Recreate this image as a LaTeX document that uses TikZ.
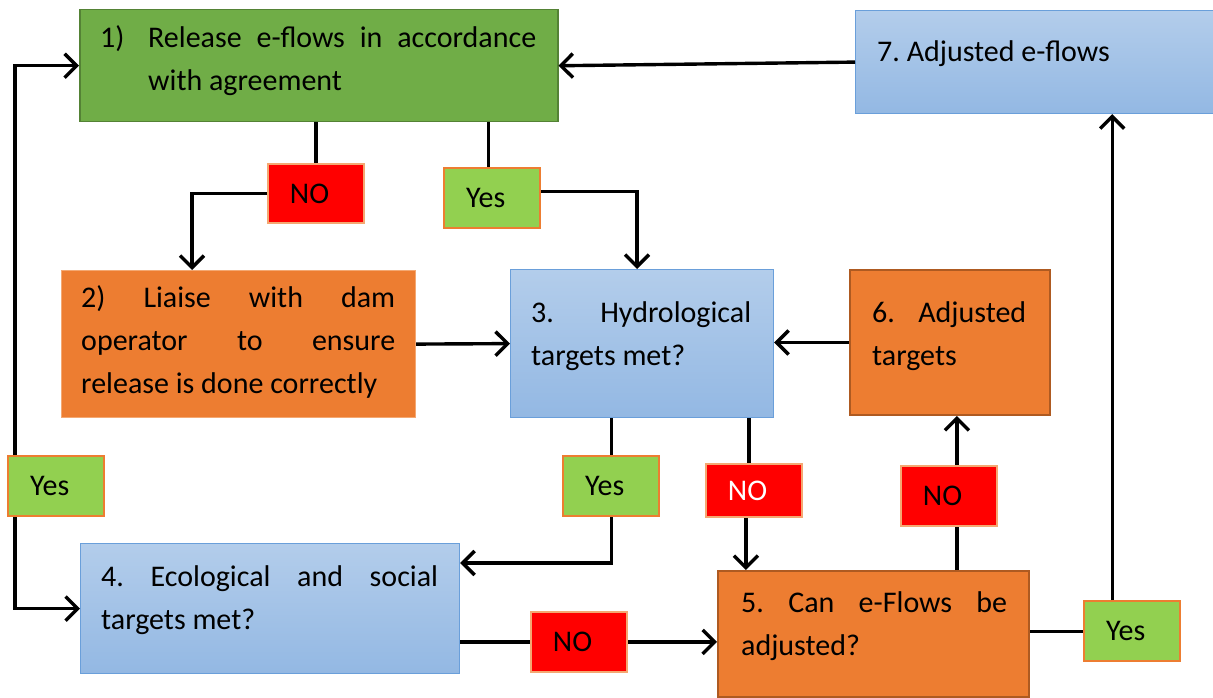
\documentclass[tikz,border=0pt]{standalone}
\usepackage{fontspec}
\setmainfont{Carlito}
\usetikzlibrary{arrows.meta,calc}
\definecolor{grnF}{HTML}{70AD47}
\definecolor{grnD}{HTML}{548235}
\definecolor{orF}{HTML}{ED7D31}
\definecolor{orD}{HTML}{AE5A21}
\definecolor{orL}{HTML}{F4A872}
\definecolor{blT}{HTML}{B3CDEB}
\definecolor{blB}{HTML}{93B8E3}
\definecolor{blD}{HTML}{6A9FDA}
\definecolor{yesF}{HTML}{92D050}
\definecolor{noF}{HTML}{FF0000}
\frenchspacing
\begin{document}
\begin{tikzpicture}[x=1pt,y=-1pt,
  fnt/.style={font=\fontsize{30}{43}\selectfont\frenchspacing},
  box/.style={rectangle, anchor=north west, inner sep=0pt},
  gbox/.style={box, fill=grnF, draw=grnD, line width=1.5pt},
  obox/.style={box, fill=orF, draw=orD, line width=2pt},
  olbox/.style={box, fill=orF, draw=orL, line width=1.2pt},
  bbox/.style={box, top color=blT, bottom color=blB, draw=blD, line width=1.2pt},
  txt/.style={fnt, anchor=base west, inner sep=0pt, align=justify},
  lbl/.style={fnt, anchor=north west, inner xsep=22pt, inner ysep=0pt, text width=52pt, align=left, minimum height=60pt},
  yeslbl/.style={lbl, fill=yesF, draw=orF, line width=2.4pt},
  nolbl/.style={lbl, fill=noF, draw=orL, line width=1.8pt},
  conn/.style={line width=3.4pt, black},
  arr/.style={conn, -{Straight Barb[length=12pt,width=24pt]}}
]
\useasboundingbox (0,0) rectangle (1213,698);
\fill[white] (0,0) rectangle (1213,698);
\clip (0,0) rectangle (1213,698);

% main boxes
\node[gbox, minimum width=478pt, minimum height=112pt] (b1) at (79,9) {};
\node[bbox, minimum width=400pt, minimum height=103pt] (b7) at (855,10) {};
\node[olbox, minimum width=354pt, minimum height=147pt] (b2) at (61,270) {};
\node[bbox, minimum width=263pt, minimum height=148pt] (b3) at (510,269) {};
\node[obox, minimum width=200pt, minimum height=145pt] (b6) at (849,269) {};
\node[bbox, minimum width=379pt, minimum height=130pt] (b4) at (80,543) {};
\node[obox, minimum width=311pt, minimum height=126pt] (b5) at (717,570) {};

% box texts
\node[txt, text width=388pt] (t1) at (148,48) {\noindent\llap{\makebox[48pt][l]{1)}}Release e-flows in accordance\linebreak with agreement};
\node[fnt, anchor=base west, inner sep=0pt] (t7) at (877,62) {7. Adjusted e-flows};
\node[txt, text width=314pt] (t2) at (81,307) {\noindent 2) Liaise with dam\linebreak operator to ensure\linebreak release is done correctly};
\node[txt, text width=220pt] (t3) at (531,322) {\noindent 3. Hydrological\linebreak targets met?};
\node[txt, text width=154pt] (t6) at (872,322) {\noindent 6. Adjusted\linebreak targets};
\node[txt, text width=337pt] (t4) at (101,586) {\noindent 4. Ecological and social\linebreak targets met?};
\node[txt, text width=266pt] (t5) at (741,612) {\noindent 5. Can e-Flows be\linebreak adjusted?};

% labels
\node[nolbl, minimum width=96pt, minimum height=59pt] (no1) at (267,163) {NO};
\node[yeslbl] (yes1) at (443,167) {Yes};
\node[yeslbl] (yesL) at (7,455) {Yes};
\node[yeslbl] (yesM) at (562,455) {Yes};
\node[nolbl, minimum height=53pt, text=white] (noM) at (705,463) {NO};
\node[nolbl] (noR) at (900,465) {NO};
\node[nolbl] (noB) at (530,611) {NO};
\node[yeslbl] (yesR) at (1083,600) {Yes};

% connectors
\draw[conn] (b1.south -| no1.north) -- (no1.north);
\draw[arr] (no1.west) -| ([xshift=131pt]b2.north west);
\draw[conn] ([xshift=-4pt]yes1.north |- b1.south) -- ([xshift=-4pt]yes1.north);
\draw[arr] ([yshift=7pt]yes1.east) -| ([xshift=127pt]b3.north west);
\draw[arr] (b7.west) -- (b1.east);
\draw[arr] ([xshift=8pt]yesL.north west) |- (b1.west);
\draw[arr] ([xshift=8pt]yesL.south west) |- (b4.west);
\draw[arr] (b2.east) -- (b3.west);
\draw[arr] (b6.west) -- (b3.east |- b6.west);
\draw[conn] (b3.south -| yesM.north) -- (yesM.north);
\draw[arr] (yesM.south) |- ([yshift=-20pt]b4.north east);
\draw[conn] ([xshift=-5pt]b3.south -| noM.north) -- ([xshift=-5pt]noM.north);
\draw[arr] ([xshift=-8pt]noM.south) -- ([xshift=-8pt]noM.south |- b5.north);
\draw[conn] ([xshift=8pt]b5.north -| noR.south) -- ([xshift=8pt]noR.south);
\draw[arr] ([xshift=8pt]noR.north) -- ([xshift=8pt]noR.north |- b6.south);
\draw[conn] (b4.east |- noB.west) -- (noB.west);
\draw[arr] (noB.east) -- (noB.east -| b5.west);
\draw[conn] (b5.east |- yesR.west) -- (yesR.west);
\draw[arr] ([xshift=-20pt]yesR.north) -- ([xshift=-20pt]yesR.north |- b7.south);
\end{tikzpicture}
\end{document}
